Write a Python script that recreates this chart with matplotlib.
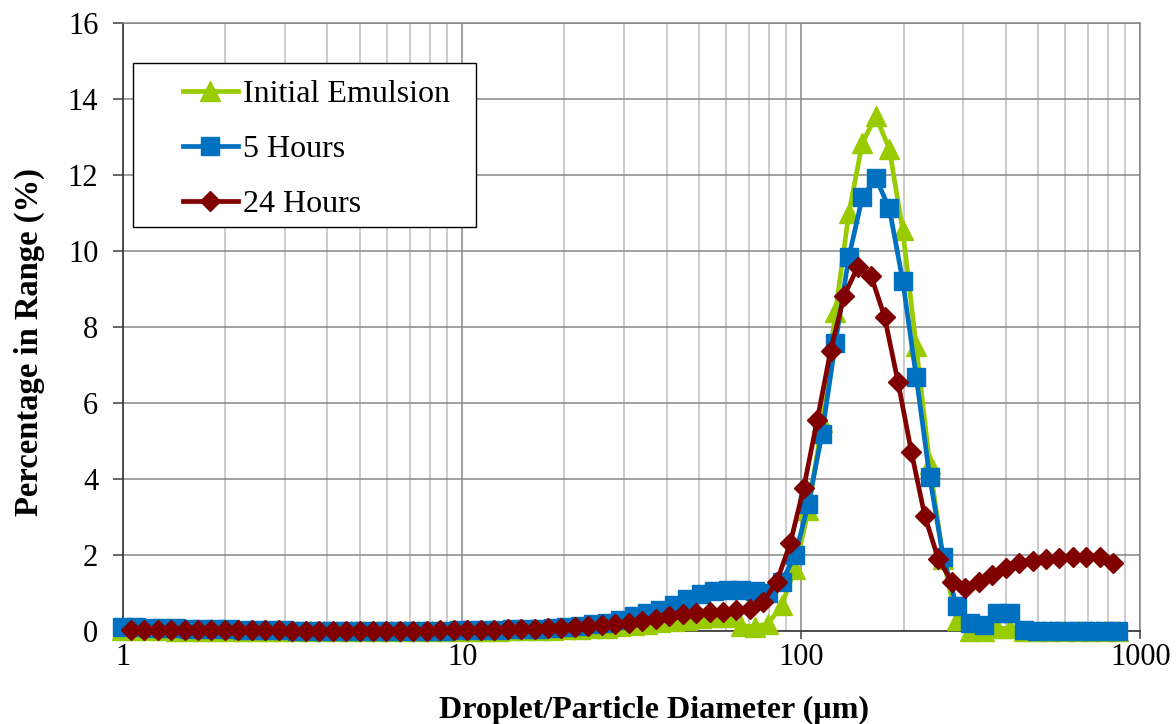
import matplotlib
matplotlib.use("Agg")
import matplotlib.pyplot as plt
from matplotlib.ticker import LogLocator, FixedLocator, NullFormatter
from matplotlib.patches import Rectangle

plt.rcParams['font.family'] = ['Liberation Serif', 'DejaVu Serif']

# size classes (um) for the initial emulsion and 5 h samples
diam_a = [0.991, 1.086, 1.190, 1.304, 1.428, 1.565, 1.715, 1.879, 2.059, 2.256,
          2.472, 2.708, 2.968, 3.252, 3.563, 3.904, 4.278, 4.687, 5.136, 5.628,
          6.166, 6.757, 7.403, 8.112, 8.888, 9.739, 10.68, 11.70, 12.82, 14.04,
          15.39, 16.86, 18.48, 20.25, 22.18, 24.30, 26.63, 29.18, 31.97, 35.03,
          38.38, 42.06, 46.08, 50.49, 55.33, 60.62, 66.42, 72.78, 79.75, 87.38,
          95.76, 104.9, 115.0, 126.0, 138.0, 151.2, 165.7, 181.6, 199.0, 218.0,
          238.9, 261.8, 286.8, 314.3, 344.4, 377.4, 413.5, 453.1, 496.5, 544.0,
          596.1, 653.2, 715.8, 784.3, 859.0]

# size classes (um) for the 24 h sample
diam_b = [1.051, 1.152, 1.262, 1.383, 1.515, 1.660, 1.819, 1.993, 2.184, 2.393,
          2.622, 2.873, 3.148, 3.449, 3.780, 4.142, 4.538, 4.973, 5.449, 5.971,
          6.542, 7.169, 7.855, 8.607, 9.430, 10.33, 11.32, 12.41, 13.60, 14.90,
          16.33, 17.89, 19.60, 21.48, 23.53, 25.78, 28.25, 30.95, 33.91, 37.16,
          40.72, 44.62, 48.89, 53.57, 58.70, 64.31, 70.46, 77.21, 84.61, 92.70,
          101.6, 111.3, 121.9, 133.6, 146.4, 160.4, 175.8, 192.6, 211.1, 231.2,
          253.4, 277.6, 304.2, 333.3, 365.2, 400.2, 438.5, 480.5, 526.5, 576.9,
          632.1, 692.6, 758.9, 831.6]

initial = [0.03, 0.03, 0.03, 0.03, 0.02, 0.02, 0.02, 0.02, 0.02, 0.02,
           0.02, 0.02, 0.02, 0.01, 0.01, 0.01, 0.01, 0.01, 0.01, 0.01,
           0.01, 0.01, 0.01, 0.01, 0.01, 0.01, 0.02, 0.02, 0.02, 0.03,
           0.03, 0.04, 0.04, 0.05, 0.06, 0.08, 0.10, 0.13, 0.16, 0.20,
           0.24, 0.27, 0.30, 0.35, 0.38, 0.38, 0.15, 0.12, 0.20, 0.68,
           1.65, 3.20, 5.50, 8.40, 11.00, 12.85, 13.55, 12.70, 10.55, 7.50,
           4.40, 1.90, 0.30, 0.00, 0.00, 0.08, 0.08, 0.00, 0.00, 0.00,
           0.00, 0.00, 0.00, 0.00, 0.00]

hours_5 = [0.12, 0.11, 0.10, 0.09, 0.08, 0.07, 0.06, 0.05, 0.05, 0.04,
           0.04, 0.03, 0.03, 0.02, 0.02, 0.02, 0.02, 0.02, 0.02, 0.02,
           0.02, 0.02, 0.02, 0.02, 0.02, 0.03, 0.03, 0.04, 0.04, 0.05,
           0.06, 0.07, 0.08, 0.11, 0.15, 0.20, 0.23, 0.29, 0.40, 0.47,
           0.57, 0.70, 0.86, 0.98, 1.07, 1.10, 1.10, 1.07, 1.02, 1.30,
           2.00, 3.36, 5.20, 7.60, 9.85, 11.42, 11.93, 11.13, 9.22, 6.70,
           4.07, 1.96, 0.67, 0.21, 0.17, 0.47, 0.47, 0.03, 0.00, 0.00,
           0.00, 0.00, 0.00, 0.00, 0.00]

hours_24 = [0.04, 0.04, 0.04, 0.04, 0.04, 0.03, 0.03, 0.03, 0.03, 0.03,
            0.03, 0.03, 0.02, 0.02, 0.02, 0.02, 0.02, 0.02, 0.02, 0.02,
            0.02, 0.02, 0.02, 0.03, 0.03, 0.03, 0.04, 0.04, 0.05, 0.06,
            0.07, 0.08, 0.10, 0.12, 0.14, 0.16, 0.19, 0.23, 0.28, 0.33,
            0.40, 0.45, 0.47, 0.50, 0.52, 0.56, 0.60, 0.78, 1.31, 2.32,
            3.78, 5.56, 7.38, 8.83, 9.58, 9.36, 8.28, 6.57, 4.71, 3.03,
            1.90, 1.31, 1.13, 1.31, 1.48, 1.66, 1.79, 1.86, 1.91, 1.93,
            1.95, 1.95, 1.96, 1.79]

fig = plt.figure(figsize=(11.76, 7.24), dpi=100)
ax = fig.add_axes([0.1049, 0.128, 0.8649, 0.8398])

ax.plot(diam_a, initial, color='#99CC00', lw=3.4, marker='^', ms=14,
        label='Initial Emulsion', clip_on=False, zorder=3)
ax.plot(diam_a, hours_5, color='#0070C0', lw=3.4, marker='s', ms=13,
        label='5 Hours', clip_on=False, zorder=4)
ax.plot(diam_b, hours_24, color='#800000', lw=3.4, marker='D', ms=10,
        label='24 Hours', clip_on=False, zorder=5)

ax.set_xscale('log')
ax.set_xlim(1, 1000)
ax.set_ylim(0, 16)
ax.set_yticks(range(0, 17, 2))
ax.xaxis.set_major_locator(FixedLocator([1, 10, 100, 1000]))
ax.set_xticklabels(['1', '10', '100', '1000'])
ax.xaxis.set_minor_locator(LogLocator(base=10, subs=range(2, 10)))
ax.xaxis.set_minor_formatter(NullFormatter())

ax.grid(which='major', axis='both', color='#868686', lw=1.1)
ax.grid(which='minor', axis='x', color='#C4C4C4', lw=1.2)
ax.set_axisbelow(True)

for side in ['top', 'right']:
    ax.spines[side].set_color('#868686')
    ax.spines[side].set_linewidth(1.1)
for side in ['left', 'bottom']:
    ax.spines[side].set_color('#404040')
    ax.spines[side].set_linewidth(1.3)

ax.tick_params(axis='y', which='major', direction='out', length=7, width=1.1,
               color='#404040', pad=11, labelsize=22)
ax.tick_params(axis='x', which='major', direction='out', length=6, width=1.1,
               color='#404040', pad=2.5, labelsize=22)
ax.tick_params(axis='x', which='minor', length=0)

ax.set_xlabel('Droplet/Particle Diameter (µm)', fontsize=23, fontweight='bold')
ax.set_ylabel('Percentage in Range (%)', fontsize=23.5, fontweight='bold')
ax.xaxis.set_label_coords(0.5217, -0.106)
ax.yaxis.set_label_coords(-0.077, 0.475)

# legend box
fig.patches.append(Rectangle((133 / 1176, 1 - 227 / 724), (476 - 133) / 1176,
                             (227 - 63) / 724, transform=fig.transFigure,
                             facecolor='white', edgecolor='black', lw=1.0,
                             zorder=10))
leg = fig.legend(loc='upper left', bbox_to_anchor=(183 / 1176, 1 - 79.5 / 724),
                 frameon=False, fontsize=23, borderpad=0, borderaxespad=0,
                 handlelength=1.72, handletextpad=0.16, labelspacing=0.81,
                 numpoints=1)
leg.set_zorder(11)

fig.savefig('out.png', dpi=100)
